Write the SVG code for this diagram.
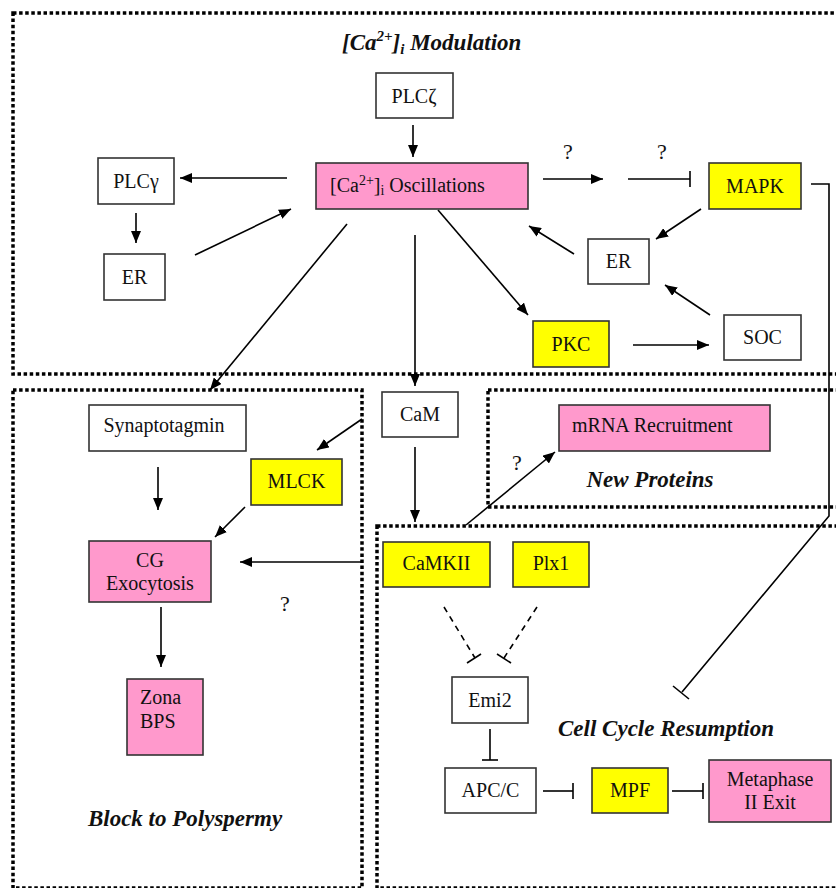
<svg xmlns="http://www.w3.org/2000/svg" width="836" height="888" viewBox="0 0 836 888">
<style>
.reg{fill:none;stroke:#000;stroke-width:3.5;stroke-dasharray:3.5 2.6}
.box{stroke:#333;stroke-width:1.6}
.w{fill:#fff}
.p{fill:#ff99cc}
.y{fill:#ffff00}
.t{font-family:"Liberation Serif","Times New Roman",serif;font-size:20px;fill:#111}
.c{text-anchor:middle}
.h{font-family:"Liberation Serif","Times New Roman",serif;font-size:23px;font-weight:bold;font-style:italic;fill:#111}
.q{font-family:"Liberation Serif","Times New Roman",serif;font-size:22px;fill:#111;text-anchor:middle}
.ln{fill:none;stroke:#000;stroke-width:1.6}
.a{marker-end:url(#arr)}
.d{stroke-dasharray:6 5}
</style>
<defs>
<marker id="arr" markerUnits="userSpaceOnUse" markerWidth="12" markerHeight="10" refX="12" refY="5" orient="auto">
<path d="M0,0 L12,5 L0,10 z" fill="#000"/>
</marker>
</defs>
<rect width="836" height="888" fill="#fff"/>
<g id="regions">
<rect id="region-modulation" class="reg" x="13" y="13" width="830" height="361"/>
<rect id="region-polyspermy" class="reg" x="13" y="390" width="349" height="498"/>
<rect id="region-newproteins" class="reg" x="488" y="390" width="355" height="117"/>
<rect id="region-cellcycle" class="reg" x="377" y="526" width="466" height="362"/>
</g>
<g id="labels">
<text class="h" x="342" y="50">[Ca<tspan font-size="15" dy="-9">2+</tspan><tspan dy="9">]</tspan><tspan font-size="15" dy="4">i</tspan><tspan dy="-4"> Modulation</tspan></text>
<text class="h c" x="185" y="826">Block to Polyspermy</text>
<text class="h c" x="650" y="487">New Proteins</text>
<text class="h c" x="666" y="736">Cell Cycle Resumption</text>
<text class="q" x="568" y="159">?</text>
<text class="q" x="662" y="159">?</text>
<text class="q" x="517" y="470">?</text>
<text class="q" x="285" y="611">?</text>
</g>
<g id="connectors">
<line class="ln a" x1="413" y1="125" x2="413" y2="157"/>
<line class="ln a" x1="287" y1="178" x2="180" y2="178"/>
<line class="ln a" x1="136" y1="213" x2="136" y2="243"/>
<line class="ln a" x1="195" y1="255" x2="291" y2="209"/>
<line class="ln a" x1="347" y1="224" x2="210" y2="390"/>
<line class="ln a" x1="415" y1="235" x2="415" y2="386"/>
<line class="ln a" x1="438" y1="210" x2="528" y2="315"/>
<line class="ln a" x1="543" y1="179" x2="603" y2="179"/>
<line class="ln" x1="628" y1="179" x2="690" y2="179"/>
<line class="ln" x1="690" y1="171" x2="690" y2="187"/>
<line class="ln a" x1="701" y1="209" x2="656" y2="239"/>
<line class="ln a" x1="574" y1="254" x2="529" y2="226"/>
<line class="ln a" x1="710" y1="315" x2="665" y2="285"/>
<line class="ln a" x1="633" y1="345" x2="709" y2="345"/>
<polyline class="ln" points="811,184 829,184 829,516 682,692"/>
<line class="ln" x1="673" y1="686" x2="689" y2="699"/>
<line class="ln a" x1="415" y1="447" x2="415" y2="522"/>
<line class="ln a" x1="362" y1="419" x2="317" y2="450"/>
<line class="ln a" x1="158" y1="467" x2="158" y2="510"/>
<line class="ln a" x1="245" y1="507" x2="215" y2="537"/>
<line class="ln a" x1="362" y1="562" x2="240" y2="562"/>
<line class="ln a" x1="161" y1="607" x2="161" y2="667"/>
<line class="ln a" x1="466" y1="525" x2="555" y2="452"/>
<line class="ln d" x1="444" y1="607" x2="475" y2="658"/>
<line class="ln" x1="467" y1="663" x2="481" y2="654"/>
<line class="ln d" x1="537" y1="607" x2="504" y2="658"/>
<line class="ln" x1="497" y1="654" x2="511" y2="663"/>
<line class="ln" x1="490" y1="729" x2="490" y2="760"/>
<line class="ln" x1="482" y1="760" x2="498" y2="760"/>
<line class="ln" x1="543" y1="791" x2="573" y2="791"/>
<line class="ln" x1="573" y1="783" x2="573" y2="799"/>
<line class="ln" x1="672" y1="791" x2="703" y2="791"/>
<line class="ln" x1="703" y1="783" x2="703" y2="799"/>
</g>
<g id="plczeta"><rect class="box w" x="376" y="73" width="77" height="45"/><text class="t c" x="414" y="103">PLCζ</text></g>
<g id="oscillations"><rect class="box p" x="316" y="163" width="212" height="46"/><text class="t" x="330" y="192">[Ca<tspan font-size="14" dy="-7">2+</tspan><tspan dy="7">]</tspan><tspan font-size="14" dy="3">i</tspan><tspan dy="-3"> Oscillations</tspan></text></g>
<g id="plcgamma"><rect class="box w" x="98" y="158" width="76" height="46"/><text class="t c" x="136" y="188">PLCγ</text></g>
<g id="er-left"><rect class="box w" x="104" y="254" width="61" height="46"/><text class="t c" x="134.5" y="284">ER</text></g>
<g id="mapk"><rect class="box y" x="709" y="163" width="92" height="46"/><text class="t c" x="755" y="193">MAPK</text></g>
<g id="er-right"><rect class="box w" x="588" y="239" width="61" height="45"/><text class="t c" x="618.5" y="268">ER</text></g>
<g id="pkc"><rect class="box y" x="533" y="321" width="76" height="46"/><text class="t c" x="571" y="351">PKC</text></g>
<g id="soc"><rect class="box w" x="724" y="315" width="77" height="45"/><text class="t c" x="762.5" y="344">SOC</text></g>
<g id="cam"><rect class="box w" x="382" y="392" width="76" height="45"/><text class="t c" x="420" y="421">CaM</text></g>
<g id="synaptotagmin"><rect class="box w" x="89" y="405" width="157" height="46"/><text class="t c" x="164" y="432">Synaptotagmin</text></g>
<g id="mlck"><rect class="box y" x="251" y="459" width="91" height="46"/><text class="t c" x="296.5" y="488">MLCK</text></g>
<g id="cg-exocytosis"><rect class="box p" x="89" y="541" width="122" height="61"/><text class="t c" x="150" y="567">CG</text><text class="t c" x="150" y="590">Exocytosis</text></g>
<g id="zona-bps"><rect class="box p" x="127" y="679" width="76" height="76"/><text class="t" x="140" y="704">Zona</text><text class="t" x="140" y="728">BPS</text></g>
<g id="mrna"><rect class="box p" x="559" y="405" width="211" height="46"/><text class="t" x="572" y="432">mRNA Recruitment</text></g>
<g id="camkii"><rect class="box y" x="383" y="542" width="107" height="45"/><text class="t c" x="436.5" y="570">CaMKII</text></g>
<g id="plx1"><rect class="box y" x="513" y="542" width="76" height="45"/><text class="t c" x="551" y="570">Plx1</text></g>
<g id="emi2"><rect class="box w" x="452" y="677" width="76" height="46"/><text class="t c" x="490" y="707">Emi2</text></g>
<g id="apcc"><rect class="box w" x="445" y="768" width="91" height="45"/><text class="t c" x="490.5" y="797">APC/C</text></g>
<g id="mpf"><rect class="box y" x="592" y="768" width="76" height="45"/><text class="t c" x="630" y="797">MPF</text></g>
<g id="metaphase"><rect class="box p" x="709" y="760" width="122" height="62"/><text class="t c" x="770" y="786">Metaphase</text><text class="t c" x="770" y="809">II Exit</text></g>
</svg>
